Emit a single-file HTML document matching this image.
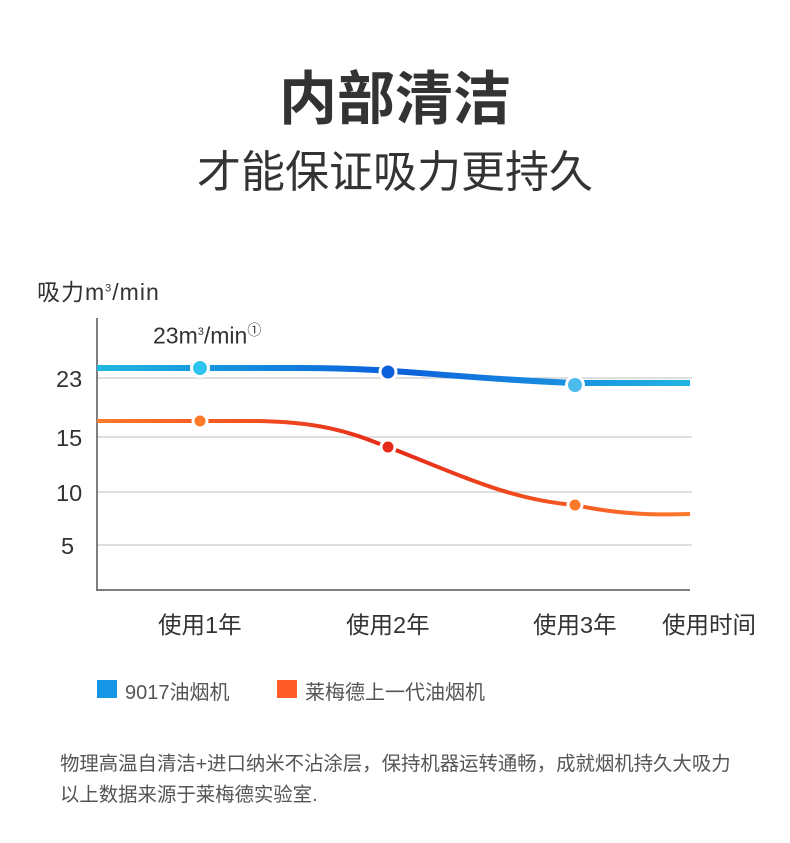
<!DOCTYPE html>
<html><head><meta charset="utf-8"><style>
body{margin:0;width:790px;height:843px;background:#fff;font-family:"Liberation Sans","Noto Sans CJK SC",sans-serif;color:#333;position:relative;overflow:hidden}
.a{position:absolute;white-space:nowrap}
</style></head><body>
<div class="a" style="left:0;width:790px;text-align:center;top:62px;font-size:58px;font-weight:bold;color:#333;line-height:76px">内部清洁</div>
<div class="a" style="left:0;width:790px;text-align:center;top:143px;font-size:44px;color:#333;line-height:60px">才能保证吸力更持久</div>
<svg class="a" style="left:0;top:0" width="790" height="843">
<defs>
<linearGradient id="gb" x1="97" x2="690" gradientUnits="userSpaceOnUse"><stop offset="0" stop-color="#1fb8e0"/><stop offset="0.5" stop-color="#0a5fdc"/><stop offset="1" stop-color="#22b4e2"/></linearGradient>
<linearGradient id="gr" x1="97" x2="690" gradientUnits="userSpaceOnUse"><stop offset="0" stop-color="#ff7a2a"/><stop offset="0.5" stop-color="#e52a18"/><stop offset="1" stop-color="#ff7a2a"/></linearGradient>
</defs>
<g stroke="#ccc" stroke-width="1.2">
<line x1="97" y1="378" x2="692" y2="378"/><line x1="97" y1="437" x2="692" y2="437"/><line x1="97" y1="492" x2="692" y2="492"/><line x1="97" y1="545" x2="692" y2="545"/>
</g>
<g stroke="#555" stroke-width="1.5"><line x1="97" y1="318" x2="97" y2="591"/><line x1="97" y1="590" x2="690" y2="590"/></g>
<path d="M97 368 L300 368 C400 368 450 378 575 383 L690 383" fill="none" stroke="url(#gb)" stroke-width="6"/>
<path d="M97 421 L250 421 C330 421 360 437 388 447 C460 475 510 500 575 505 C620 515 660 515 690 514" fill="none" stroke="url(#gr)" stroke-width="4"/>
<g stroke="#fff" stroke-width="3">
<circle cx="200" cy="368" r="8.5" fill="#2ec3ec"/><circle cx="388" cy="372" r="8" fill="#0d5fdc"/><circle cx="575" cy="385" r="8.5" fill="#4dbcec"/>
<circle cx="200" cy="421" r="7" fill="#ff7a2a"/><circle cx="388" cy="447" r="7" fill="#e52a18"/><circle cx="575" cy="505" r="7" fill="#ff7a2a"/>
</g>
<rect x="97" y="680" width="20" height="18" fill="#1796e6"/><rect x="277" y="680" width="20" height="18" fill="#ff5a28"/>
</svg>
<div class="a" style="left:37px;top:273px;font-size:23px;letter-spacing:1px;color:#333">吸力m<sup style="font-size:11px">3</sup>/min</div>
<div class="a" style="left:153px;top:320px;font-size:23px;color:#333">23m<sup style="font-size:11px">3</sup>/min<sup style="font-size:14px">①</sup></div>
<div class="a" style="left:56px;top:366px;font-size:23.5px">23</div>
<div class="a" style="left:56px;top:425px;font-size:23.5px">15</div>
<div class="a" style="left:56px;top:480px;font-size:23.5px">10</div>
<div class="a" style="left:61px;top:533px;font-size:23.5px">5</div>
<div class="a" style="left:158px;top:606px;font-size:23.5px">使用1年</div>
<div class="a" style="left:346px;top:606px;font-size:23.5px">使用2年</div>
<div class="a" style="left:533px;top:606px;font-size:23.5px">使用3年</div>
<div class="a" style="left:662px;top:606px;font-size:23.5px">使用时间</div>
<div class="a" style="left:125px;top:676px;font-size:20px;color:#555">9017油烟机</div>
<div class="a" style="left:305px;top:676px;font-size:20px;color:#555">莱梅德上一代油烟机</div>
<div class="a" style="left:60px;top:747px;font-size:19.4px;color:#555">物理高温自清洁+进口纳米不沾涂层，保持机器运转通畅，成就烟机持久大吸力</div>
<div class="a" style="left:60px;top:778px;font-size:19.4px;color:#555">以上数据来源于莱梅德实验室.</div>
</body></html>
